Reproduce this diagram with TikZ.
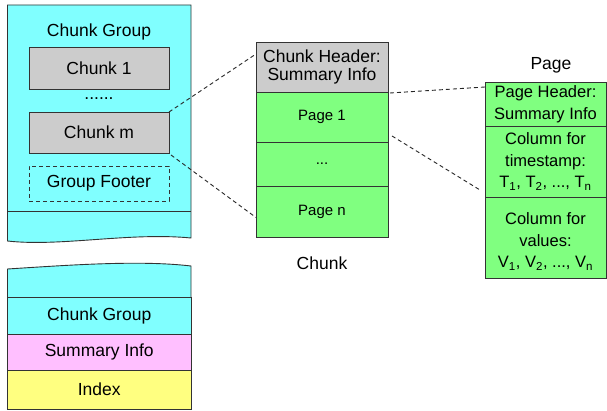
\documentclass[tikz,border=0pt]{standalone}
\usepackage{fontspec}
\setmainfont{Liberation Sans}
\usepackage{tikz}
\usetikzlibrary{positioning}

\definecolor{cgcyan}{HTML}{80FFFF}
\definecolor{hdrgray}{HTML}{CCCCCC}
\definecolor{pggreen}{HTML}{80FF80}
\definecolor{sumpink}{HTML}{FFBFFF}
\definecolor{idxyellow}{HTML}{FFFF80}

\newcommand{\bigfont}{\fontsize{17.5}{18.5}\selectfont}
\newcommand{\pgfont}{\fontsize{15}{18}\selectfont}
\newcommand{\colfont}{\fontsize{16.5}{21.5}\selectfont}

\tikzset{
  part/.style={draw=black!80, line width=0.9pt, inner sep=0pt, outer sep=0pt, align=center, font=\bigfont},
  link/.style={draw=black!85, line width=0.9pt, dash pattern=on 4pt off 3pt},
}

\begin{document}
\begin{tikzpicture}[x=1pt, y=-1pt, font=\bigfont]
  \useasboundingbox (0,0) rectangle (607,411);

  % file: upper part
  \draw[fill=cgcyan, draw=black!80, line width=0.9pt] (7.5,5) -- (191,5) -- (191,238)
    .. controls (130,232) and (60,247) .. (7.5,241) -- cycle;
  \draw[draw=black!80, line width=0.9pt] (7.5,211) -- (191,211);
  \node at (99,32) (cg) {Chunk Group};
  \node[part, fill=hdrgray, minimum width=140pt, minimum height=42pt] at (99,68) (c1) {Chunk 1};
  \node at (99,99) (cdots) {......};
  \node[part, fill=hdrgray, minimum width=140pt, minimum height=41pt] at (99,132.5) (cm) {Chunk m};
  \node[part, dash pattern=on 4pt off 3pt, minimum width=140pt, minimum height=35pt] at (99,183.5) (gf) {Group Footer};

  % file: lower part
  \draw[fill=cgcyan, draw=black!80, line width=0.9pt] (191,297) -- (191,266)
    .. controls (140,260) and (70,265) .. (7.5,269) -- (7.5,297);
  \node[part, fill=cgcyan, minimum width=183.5pt, minimum height=37pt] at (99.25,315.5) (cg2) {Chunk Group};
  \node[part, fill=sumpink, minimum width=183.5pt, minimum height=36pt, below=0pt of cg2] (sum) {Summary Info};
  \node[part, fill=idxyellow, minimum width=183.5pt, minimum height=39pt, below=0pt of sum] (idx) {Index};

  % chunk
  \node[part, fill=hdrgray, minimum width=132pt, minimum height=50pt] at (322,67) (chdr) {Chunk Header:\\Summary Info};
  \node[part, fill=pggreen, font=\pgfont, minimum width=132pt, minimum height=50pt, below=0pt of chdr] (pg1) {Page 1};
  \node[part, fill=pggreen, font=\pgfont, minimum width=132pt, minimum height=44pt, below=0pt of pg1] (pgdots) {...};
  \node[part, fill=pggreen, font=\pgfont, minimum width=132pt, minimum height=51pt, below=0pt of pgdots] (pgn) {Page n};
  \node at (322,263) (chlbl) {Chunk};

  % page
  \node at (551,65) (pglbl) {Page};
  \node[part, fill=pggreen, font=\colfont, minimum width=121pt, minimum height=44pt] at (545.5,104) (phdr) {Page Header:\\Summary Info};
  \node[part, fill=pggreen, font=\colfont, minimum width=121pt, minimum height=71pt, below=0pt of phdr] (pts) {Column for\\timestamp:\\T\textsubscript{1}, T\textsubscript{2}, ..., T\textsubscript{n}};
  \node[part, fill=pggreen, font=\colfont, minimum width=121pt, minimum height=81pt, below=0pt of pts] (pval) {\rule{0pt}{20pt}Column for\\values:\\V\textsubscript{1}, V\textsubscript{2}, ..., V\textsubscript{n}};

  % zoom lines
  \draw[link] (cm.north east) -- ([yshift=-12pt]chdr.north west);
  \draw[link] ([shift={(2pt,-2pt)}]cm.south east) -- ([yshift=-6pt]pgn.west);
  \draw[link] ([shift={(2pt,-1pt)}]chdr.south east) -- ([yshift=-5pt]phdr.north west);
  \draw[link] ([shift={(4pt,6pt)}]pg1.south east) -- ([shift={(-5pt,7pt)}]pts.south west);
\end{tikzpicture}
\end{document}
